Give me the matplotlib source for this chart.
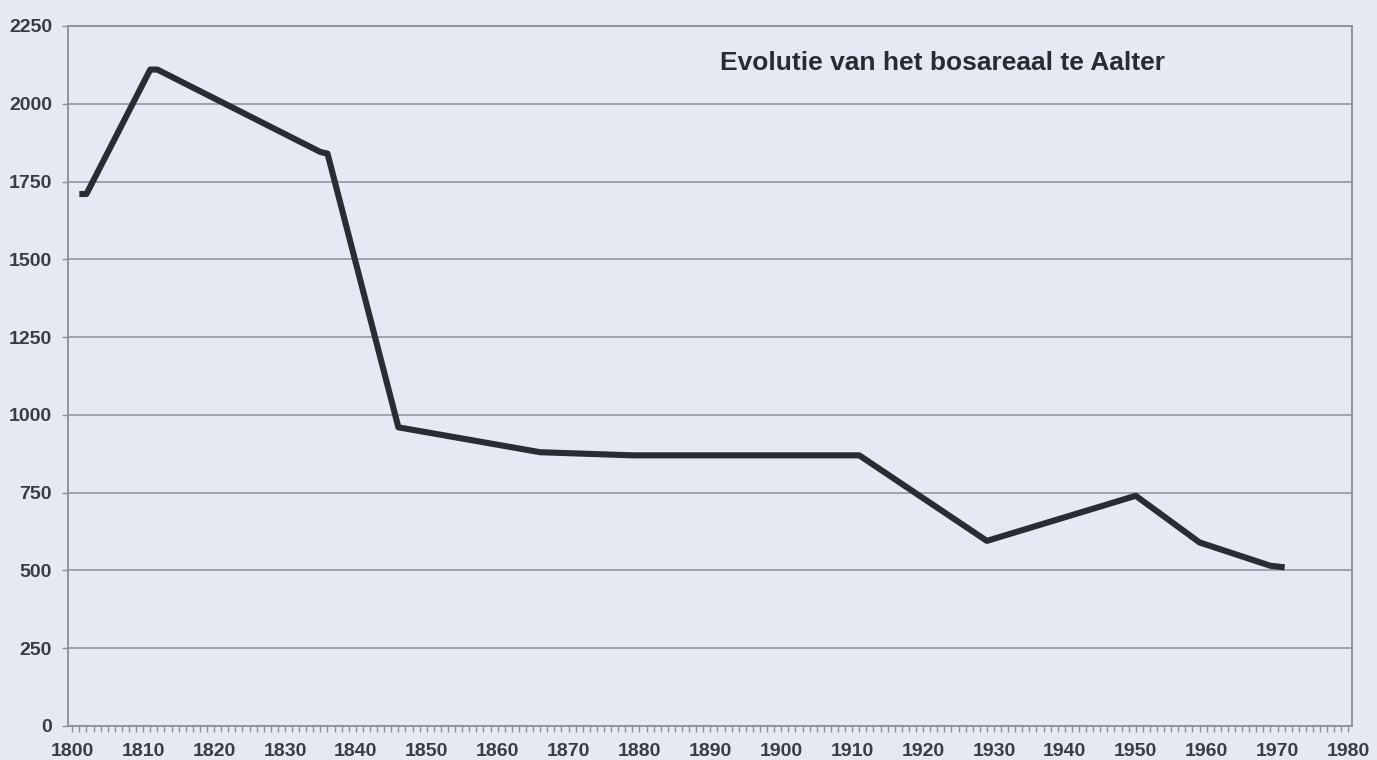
import matplotlib
matplotlib.use("Agg")
import matplotlib.pyplot as plt
from matplotlib.ticker import MultipleLocator

# Forest area in Aalter (ha) by year
years = [1801, 1802, 1811, 1812, 1835, 1836, 1846, 1866, 1879, 1911, 1929, 1950, 1959, 1969, 1971]
area = [1710, 1710, 2110, 2110, 1845, 1840, 960, 880, 870, 870, 595, 740, 590, 515, 510]

x_major = list(range(1800, 1981, 10))
y_major = list(range(0, 2251, 250))
title = "Evolutie van het bosareaal te Aalter"

bg = "#e6e9f3"
grid_col = "#8d8f98"
text_col = "#3b3b46"
line_col = "#2b2b33"

plt.rcParams["font.family"] = ["Liberation Sans", "DejaVu Sans"]

fig = plt.figure(figsize=(13.77, 7.6), dpi=100, facecolor=bg)
ax = fig.add_axes([68 / 1377, 34 / 760, (1352 - 68) / 1377, (726 - 26) / 760])
ax.set_facecolor(bg)

ax.plot(years, area, color=line_col, linewidth=4.4,
        solid_joinstyle="round", solid_capstyle="butt", zorder=3)

ax.set_xlim(1799.4, 1980.5)
ax.set_ylim(0, 2250)
ax.set_xticks(x_major)
ax.xaxis.set_minor_locator(MultipleLocator(1))
ax.set_yticks(y_major)

ax.grid(axis="y", color=grid_col, linewidth=1.1)
ax.set_axisbelow(True)

for s in ax.spines.values():
    s.set_color(grid_col)
    s.set_linewidth(1.3)

ax.tick_params(axis="x", which="both", direction="out", length=4.5, width=1.0,
               color=grid_col, pad=8, labelsize=14, labelcolor=text_col)
ax.tick_params(axis="y", which="major", direction="out", length=4.5, width=1.0,
               color=grid_col, pad=7, labelsize=14, labelcolor=text_col)
for lab in ax.get_xticklabels() + ax.get_yticklabels():
    lab.set_fontweight("bold")

ax.text(720 / 1377, 1 - 63 / 760, title, transform=fig.transFigure,
        ha="left", va="center", fontsize=19, fontweight="bold", color="#2a2a35")

fig.savefig("out.png", dpi=100, facecolor=bg)
